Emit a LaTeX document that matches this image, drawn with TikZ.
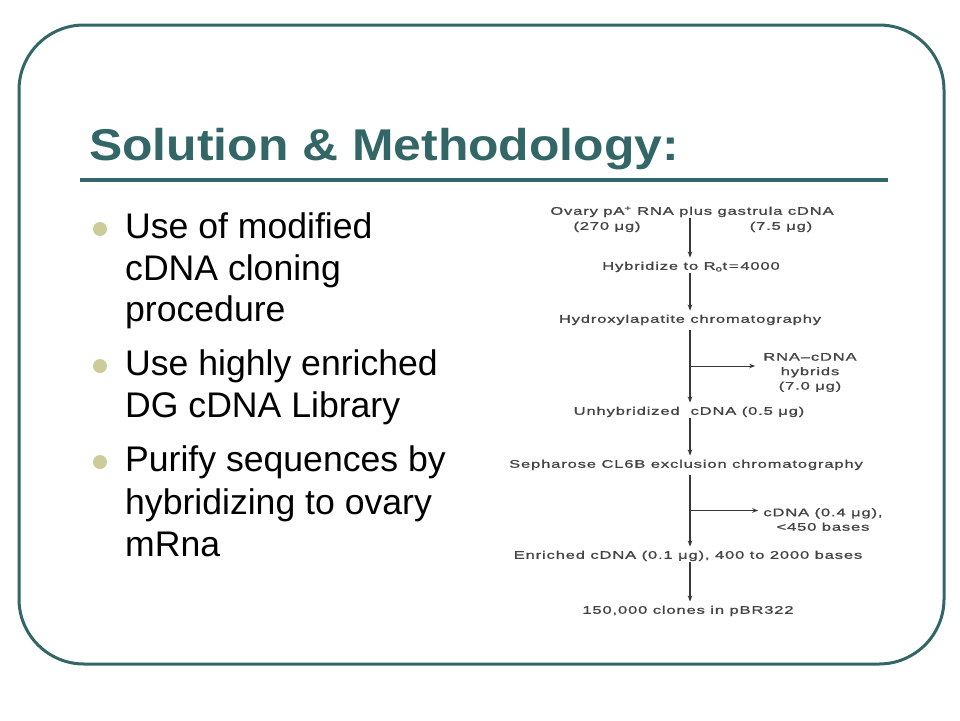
\documentclass[tikz,border=0pt]{standalone}
\usepackage{fontspec}
\setmainfont{Liberation Sans}
\newfontfamily\flowfont[FakeStretch=1.5,LetterSpace=8,FakeBold=1.2]{Liberation Sans}
\newfontfamily\titlefont[FakeStretch=1.12]{Liberation Sans}
\usetikzlibrary{arrows.meta,calc}
\definecolor{framec}{RGB}{51,102,102}
\definecolor{bulc}{RGB}{204,204,153}
\definecolor{flowc}{RGB}{68,68,68}
\begin{document}
\begin{tikzpicture}[x=1pt,y=-1pt,
  bt/.style={anchor=base west,inner sep=0pt,font=\fontsize{35.6}{42}\selectfont,text=black},
  fl/.style={inner sep=1pt,align=center,text=flowc,font=\flowfont\fontsize{11}{14.5}\selectfont},
  one/.style={text height=8pt,text depth=2.5pt},
  arr/.style={draw=black!78,line width=1.3pt,-{Stealth[length=6pt,width=4.5pt]},shorten >=3pt},
  bulletdot/.style={fill=bulc}]
\useasboundingbox (0,0) rectangle (960,720);
\fill[white] (0,0) rectangle (960,720);
% frame
\draw[framec,line width=3pt,rounded corners=65pt] (19,25) rectangle (944,664);
% title
\node[anchor=base west,inner sep=0pt,text=framec,font=\titlefont\bfseries\fontsize{44.5}{44.5}\selectfont] (title) at (89,160) {Solution \& Methodology:};
\draw[framec,line width=4pt] (80,180) -- (888,180);
% bullets
\fill[bulletdot] (100,229) circle (7);
\fill[bulletdot] (100,366) circle (7);
\fill[bulletdot] (100,462) circle (7);
\node[bt] (l1) at (125,238.5) {Use of modified};
\node[bt] (l2) at (125,280.5) {cDNA cloning};
\node[bt] (l3) at (125,321.5) {procedure};
\node[bt] (l4) at (125,375) {Use highly enriched};
\node[bt] (l5) at (125,417) {DG cDNA Library};
\node[bt] (l6) at (125,471) {Purify sequences by};
\node[bt] (l7) at (125,514) {hybridizing to ovary};
\node[bt] (l8) at (125,556.5) {mRna};
% flowchart
\coordinate (ax) at (690,0);
\node[fl,one] (ov1) at (692,212) {Ovary pA\textsuperscript{+} RNA plus gastrula cDNA};
\node[fl,one] (ov2) at (607,227) {(270 μg)};
\node[fl,one] (ov3) at (781,227) {(7.5 μg)};
\node[fl,one] (hyb) at (691,267) {Hybridize to R\textsubscript{o}t\,=\,4000};
\node[fl,one] (hyd) at (690,320) {Hydroxylapatite chromatography};
\node[fl] (rna) at (810,372.5) {RNA–cDNA\\hybrids\\(7.0 μg)};
\node[fl,one] (unh) at (689,412) {Unhybridized\ \ cDNA (0.5 μg)};
\node[fl,one] (sep) at (686,465) {Sepharose CL6B exclusion chromatography};
\node[fl] (cd4) at (823,519.5) {cDNA (0.4 μg),\\<450 bases};
\node[fl,one] (enr) at (688,556) {Enriched cDNA (0.1 μg), 400 to 2000 bases};
\node[fl,one] (clo) at (688,611) {150,000 clones in pBR322};
\draw[arr] (ov1.south -| ax) -- (hyb.north -| ax);
\draw[arr] (hyb.south -| ax) -- (hyd.north -| ax);
\draw[arr,shorten <=4pt] (hyd.south -| ax) -- (unh.north -| ax);
\coordinate (br1) at ($(hyd.south -| ax)!0.5!(unh.north -| ax)$);
\draw[arr,line width=1pt,shorten >=7pt] (br1) -- (br1 -| rna.west);
\draw[arr] (unh.south -| ax) -- (sep.north -| ax);
\draw[arr,shorten <=4pt] (sep.south -| ax) -- (enr.north -| ax);
\coordinate (br2) at ($(sep.south -| ax)!0.5!(enr.north -| ax)$);
\draw[arr,line width=1pt,shorten >=4pt] (br2) -- (br2 -| cd4.west);
\draw[arr] (enr.south -| ax) -- (clo.north -| ax);
\end{tikzpicture}
\end{document}
